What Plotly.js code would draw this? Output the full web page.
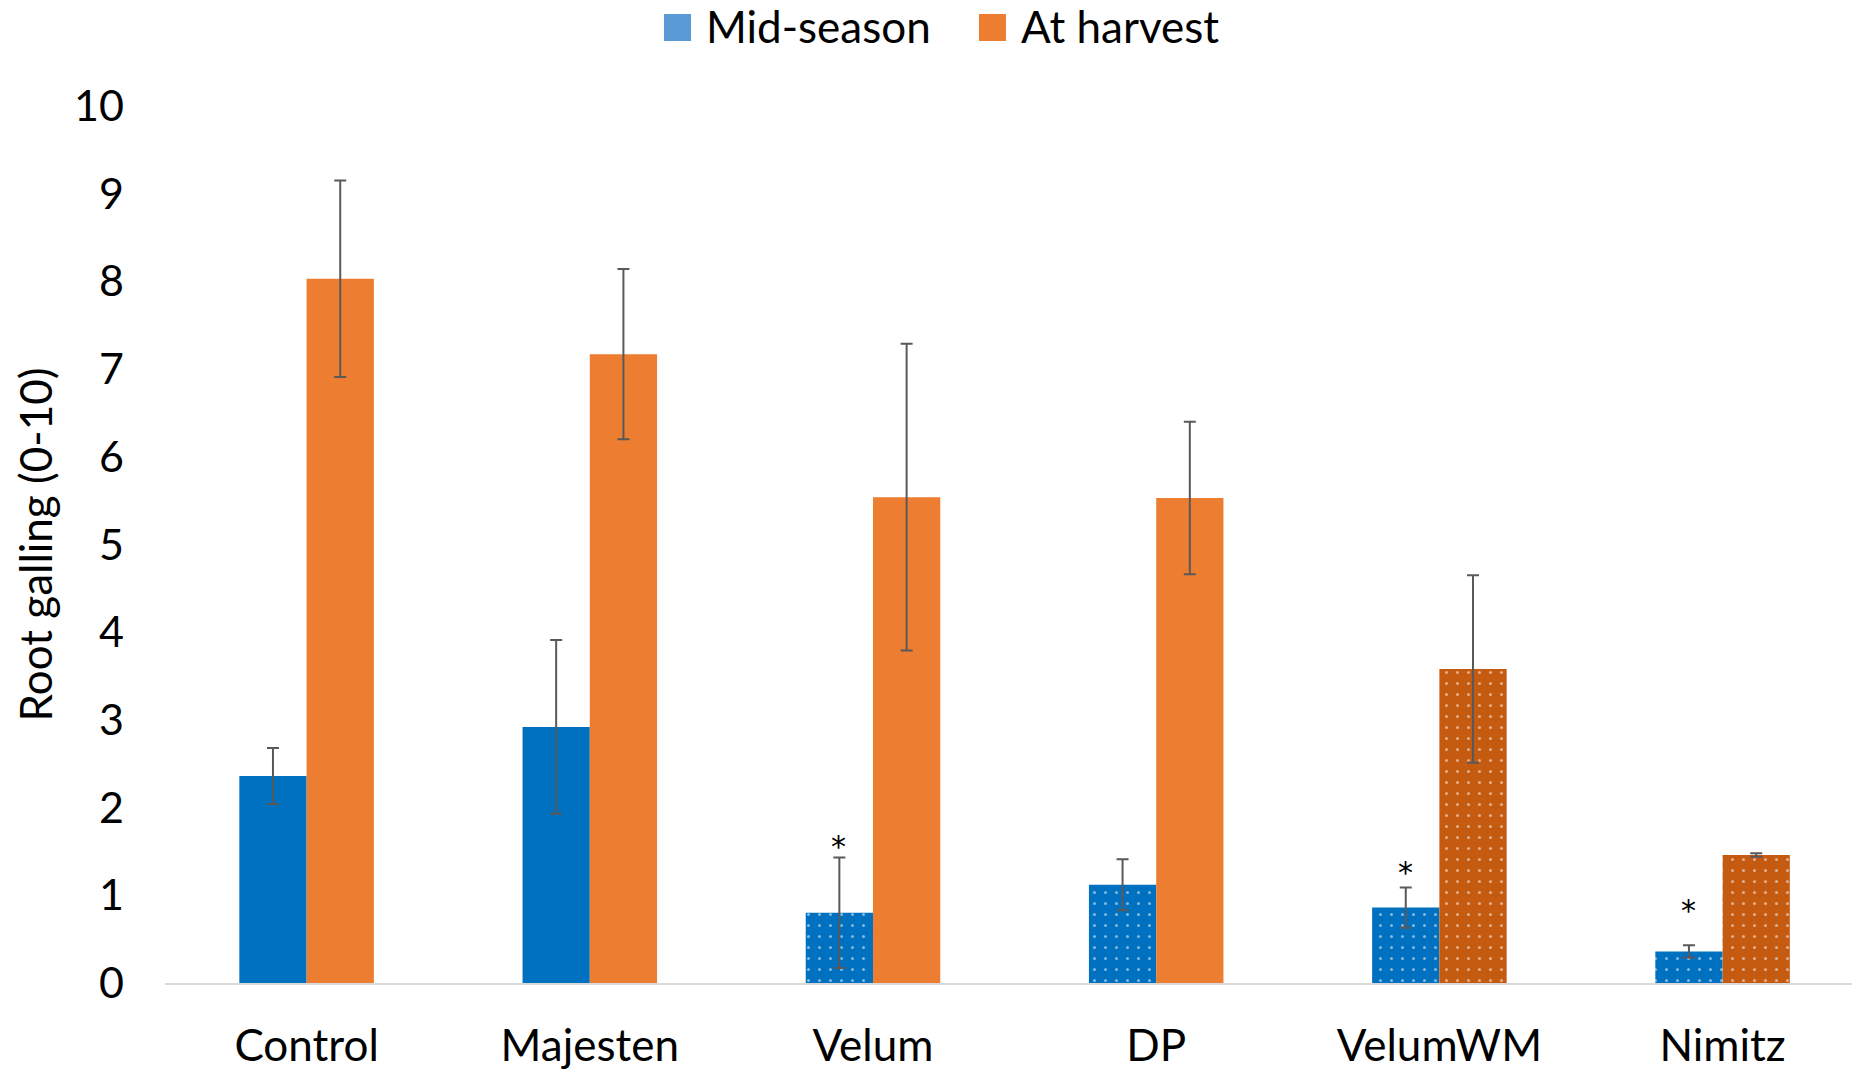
<!DOCTYPE html>
<html><head><meta charset="utf-8">
<script src="https://cdn.plot.ly/plotly-3.0.1.min.js"></script>
<style>html,body{margin:0;padding:0;background:#fff}#chart{width:1852px;height:1069px}</style>
</head><body><div id="chart"></div>
<script>
const categories = ['Control','Majesten','Velum','DP','VelumWM','Nimitz'];
const midSeason = [2.36, 2.92, 0.80, 1.12, 0.86, 0.36];
const midSeasonErr = [0.32, 0.99, 0.63, 0.29, 0.23, 0.07];
const atHarvest = [8.03, 7.17, 5.54, 5.53, 3.58, 1.46];
const atHarvestErr = [1.12, 0.97, 1.75, 0.87, 1.07, 0.02];
const midPattern = ['', '', '.', '.', '.', '.'];
const harvestPattern = ['', '', '', '', '.', '.'];
const harvestColors = ['#ED7D31','#ED7D31','#ED7D31','#ED7D31','#C55A11','#C55A11'];
const starY = [null, null, 1.63, null, 1.33, 0.90];
const seriesNames = ['Mid-season', 'At harvest'];
const legendColors = ['#5B9BD5', '#ED7D31'];
const yTicks = [0,1,2,3,4,5,6,7,8,9,10];

const FONT = 'Lato, "Open Sans", sans-serif';
const errStyle = {type:'data', visible:true, color:'#595959', thickness:2, width:6};
const pat = {fillmode:'overlay', fgcolor:'#FFFFFF', size:11, solidity:0.06};

const traces = [
  {type:'bar', name:seriesNames[0], x:categories, y:midSeason,
   marker:{color:'#0070C0', line:{width:0}, pattern:Object.assign({shape:midPattern}, pat)},
   error_y:Object.assign({array:midSeasonErr}, errStyle), showlegend:false},
  {type:'bar', name:seriesNames[1], x:categories, y:atHarvest,
   marker:{color:harvestColors, line:{width:0}, pattern:Object.assign({shape:harvestPattern}, pat)},
   error_y:Object.assign({array:atHarvestErr}, errStyle), showlegend:false}
];

const annotations = [];
categories.forEach((c,i)=>{
  if(starY[i]!==null){
    annotations.push({x:c, y:starY[i], xref:'x', yref:'y', text:'*', showarrow:false,
      xshift:-34, yshift:-6, font:{family:'"DejaVu Sans", sans-serif', size:30, color:'#000'}});
  }
});
// manual legend
const legX = [0.2958, 0.4825];
const shapes = [];
seriesNames.forEach((n,i)=>{
  shapes.push({type:'rect', xref:'paper', yref:'paper', x0:legX[i], x1:legX[i]+0.016,
    y0:1.0741, y1:1.1049, fillcolor:legendColors[i], line:{width:0}});
  annotations.push({xref:'paper', yref:'paper', x:legX[i]+0.0235, y:1.0908, xanchor:'left', yanchor:'middle',
    text:n, showarrow:false, font:{family:FONT, size:44, color:'#000'}});
});

const layout = {
  width:1852, height:1069,
  margin:{l:165, r:0, t:106, b:86},
  paper_bgcolor:'#fff', plot_bgcolor:'#fff',
  barmode:'group', bargap:0.525, bargroupgap:0,
  showlegend:false,
  font:{family:FONT, color:'#000'},
  xaxis:{type:'category', range:[-0.5, 5.457], showgrid:false, zeroline:false,
    showline:true, linecolor:'#D9D9D9', linewidth:2, ticks:'',
    tickfont:{family:FONT, size:44, color:'#000'}, ticklabelstandoff:23},
  yaxis:{range:[0,10], tickvals:yTicks, showgrid:false, zeroline:false, showline:false, ticks:'',
    tickfont:{family:FONT, size:43, color:'#000'}, ticklabelstandoff:40,
    title:{text:'Root galling (0-10)', font:{family:FONT, size:44, color:'#000'}, standoff:7}},
  shapes:shapes,
  annotations:annotations
};
Plotly.newPlot('chart', traces, layout, {staticPlot:true, displayModeBar:false});
</script>
</body></html>
